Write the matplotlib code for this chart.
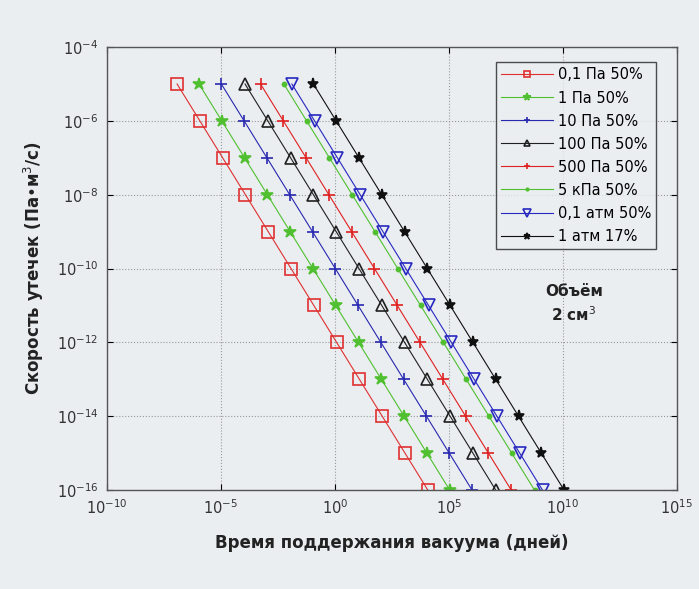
import matplotlib
matplotlib.use("Agg")
import matplotlib.pyplot as plt
from matplotlib.ticker import LogLocator, NullLocator

BG = "#eaeef1"

# скорость утечки (Па·м³/с) — одна точка на декаду
LEAK = [1e-5, 1e-6, 1e-7, 1e-8, 1e-9, 1e-10, 1e-11, 1e-12, 1e-13, 1e-14, 1e-15, 1e-16]

# время поддержания вакуума (дней)
T_01PA  = [1.2e-7, 1.2e-6, 1.2e-5, 1.2e-4, 1.2e-3, 1.2e-2, 1.2e-1, 1.2e0, 1.2e1, 1.2e2, 1.2e3, 1.2e4]
T_1PA   = [1.1e-6, 1.1e-5, 1.1e-4, 1.1e-3, 1.1e-2, 1.1e-1, 1.1e0, 1.1e1, 1.1e2, 1.1e3, 1.1e4, 1.1e5]
T_10PA  = [1.05e-5, 1.05e-4, 1.05e-3, 1.05e-2, 1.05e-1, 1.05e0, 1.05e1, 1.05e2, 1.05e3, 1.05e4, 1.05e5, 1.05e6]
T_100PA = [1.15e-4, 1.15e-3, 1.15e-2, 1.15e-1, 1.15e0, 1.15e1, 1.15e2, 1.15e3, 1.15e4, 1.15e5, 1.15e6, 1.15e7]
T_500PA = [5.5e-4, 5.5e-3, 5.5e-2, 5.5e-1, 5.5e0, 5.5e1, 5.5e2, 5.5e3, 5.5e4, 5.5e5, 5.5e6, 5.5e7]
T_5KPA  = [5.8e-3, 5.8e-2, 5.8e-1, 5.8e0, 5.8e1, 5.8e2, 5.8e3, 5.8e4, 5.8e5, 5.8e6, 5.8e7, 5.8e8]
T_01ATM = [1.3e-2, 1.3e-1, 1.3e0, 1.3e1, 1.3e2, 1.3e3, 1.3e4, 1.3e5, 1.3e6, 1.3e7, 1.3e8, 1.3e9]
T_1ATM  = [1.15e-1, 1.15e0, 1.15e1, 1.15e2, 1.15e3, 1.15e4, 1.15e5, 1.15e6, 1.15e7, 1.15e8, 1.15e9, 1.15e10]

SERIES = [
    ("0,1 Па 50%",  T_01PA,  "#e03030", "s", 8,  "none"),
    ("1 Па 50%",    T_1PA,   "#50c030", "*", 9,  "#50c030"),
    ("10 Па 50%",   T_10PA,  "#2828b0", "+", 8,  "none"),
    ("100 Па 50%",  T_100PA, "#202020", "^", 8,  "none"),
    ("500 Па 50%",  T_500PA, "#e02020", "+", 8,  "none"),
    ("5 кПа 50%",   T_5KPA,  "#50c030", ".", 6,  "#50c030"),
    ("0,1 атм 50%", T_01ATM, "#2828c0", "v", 9,  "none"),
    ("1 атм 17%",   T_1ATM,  "#101010", "*", 8,  "#101010"),
]

fig = plt.figure(figsize=(6.99, 5.89), dpi=100)
fig.patch.set_facecolor(BG)
ax = fig.add_axes([0.153, 0.168, 0.815, 0.752])
ax.set_facecolor(BG)

for label, t, col, mk, ms, fc in SERIES:
    ax.plot(t, LEAK, color=col, lw=0.8, marker=mk, markersize=ms,
            markerfacecolor=fc, markeredgecolor=col, markeredgewidth=1.2,
            label=label)

ax.set_xscale("log")
ax.set_yscale("log")
ax.set_xlim(1e-10, 1e15)
ax.set_ylim(1e-16, 1e-4)
ax.xaxis.set_major_locator(LogLocator(base=1e5, numticks=10))
ax.yaxis.set_major_locator(LogLocator(base=100, numticks=10))
ax.xaxis.set_minor_locator(NullLocator())
ax.yaxis.set_minor_locator(NullLocator())
ax.tick_params(axis="both", labelsize=10.5, labelcolor="#333333", direction="in",
               length=4, top=True, right=True, pad=6)
ax.grid(True, which="major", color="#999999", linestyle=":", linewidth=0.8)
for sp in ax.spines.values():
    sp.set_color("#555555")
    sp.set_linewidth(1.0)

ax.set_xlabel("Время поддержания вакуума (дней)", fontsize=12, fontweight="bold",
              color="#222222", labelpad=12)
ax.set_ylabel("Скорость утечек (Па•м$^3$/с)", fontsize=12, fontweight="bold",
              color="#222222", labelpad=8)

ax.text(0.82, 0.42, "Объём\n2 см$^3$", transform=ax.transAxes, ha="center",
        va="center", fontsize=11, fontweight="bold", color="#222222", linespacing=1.4)

leg = ax.legend(loc="upper right", bbox_to_anchor=(0.977, 0.982), fontsize=10.5,
                frameon=True, fancybox=False, handlelength=3.6, handletextpad=0.3,
                borderpad=0.35, labelspacing=0.55, markerscale=0.6)
leg.get_frame().set_edgecolor("#222222")
leg.get_frame().set_facecolor(BG)
leg.get_frame().set_linewidth(1.0)

fig.savefig("out.png", dpi=100, facecolor=fig.get_facecolor())
